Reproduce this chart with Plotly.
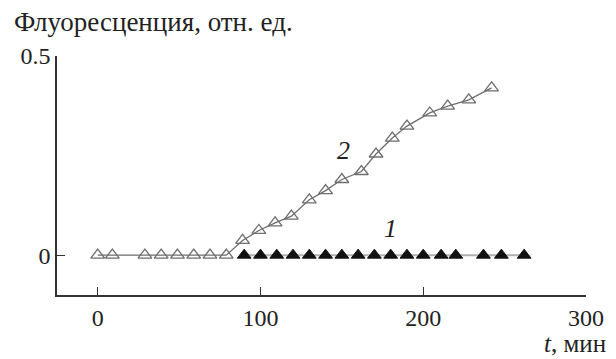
import plotly.graph_objects as go

# Series 1 (filled triangles)
t1 = [90, 100, 110, 120, 130, 140, 150, 160, 170, 180, 190, 200, 211, 220, 237, 248, 262]
f1 = [0] * len(t1)

# Series 2 (open triangles)
t2 = [0, 9, 29, 39, 49, 59, 69, 79, 89, 99, 109, 119, 130, 140, 150, 162, 171, 181, 190, 204, 215, 228, 242]
f2 = [0, 0, 0, 0, 0, 0, 0, 0, 0.037, 0.062, 0.081, 0.098, 0.139, 0.162, 0.19, 0.21,
      0.254, 0.294, 0.324, 0.357, 0.374, 0.39, 0.42]

x_ticks = [0, 100, 200, 300]
y_ticks = [0, 0.5]
y_ticklabels = ["0", "0.5"]

FONT = "Liberation Serif"
FS = 24

fig = go.Figure()
fig.add_trace(go.Scatter(
    x=t1, y=f1, mode="lines+markers",
    line=dict(color="#b0b0b0", width=2),
    marker=dict(symbol="triangle-up", size=12, color="#111111",
                line=dict(color="#111111", width=1)),
    showlegend=False))
fig.add_trace(go.Scatter(
    x=t2, y=f2, mode="lines+markers",
    line=dict(color="#6e6e6e", width=1.3),
    marker=dict(symbol="triangle-up-open", size=12, color="#6e6e6e",
                line=dict(color="#6e6e6e", width=1.3)),
    showlegend=False))

fig.update_layout(
    width=608, height=351,
    margin=dict(l=43, r=22, t=48, b=64),
    paper_bgcolor="white", plot_bgcolor="white",
    font=dict(family=FONT, size=FS, color="#222222"),
    xaxis=dict(range=[-25, 300], tickvals=x_ticks, ticks="inside", ticklen=8,
               tickcolor="#333", tickwidth=1.3, showline=True, linecolor="#333",
               linewidth=1.5, showgrid=False, zeroline=False,
               tickfont=dict(family=FONT, size=FS, color="#222")),
    yaxis=dict(range=[-0.1, 0.5], tickvals=y_ticks, ticktext=y_ticklabels,
               ticks="inside", ticklen=8, tickcolor="#333", tickwidth=1.3,
               showline=True, linecolor="#333", linewidth=1.5, showgrid=False,
               zeroline=False, tickfont=dict(family=FONT, size=FS, color="#222")),
    annotations=[
        dict(text="Флуоресценция, отн. ед.", xref="paper", yref="paper",
             x=0, y=1, xanchor="left", yanchor="bottom", showarrow=False,
             xshift=-45, yshift=17, font=dict(family=FONT, size=27, color="#222")),
        dict(text="<i>t</i>, мин", xref="paper", yref="paper", x=1, y=0,
             xanchor="right", yanchor="top", showarrow=False, xshift=22, yshift=-33,
             font=dict(family=FONT, size=25, color="#222")),
        dict(text="<i>2</i>", x=151, y=0.262, showarrow=False,
             font=dict(family=FONT, size=26, color="#222")),
        dict(text="<i>1</i>", x=180, y=0.067, showarrow=False,
             font=dict(family=FONT, size=26, color="#222")),
    ],
)

fig.write_html("out.html")
